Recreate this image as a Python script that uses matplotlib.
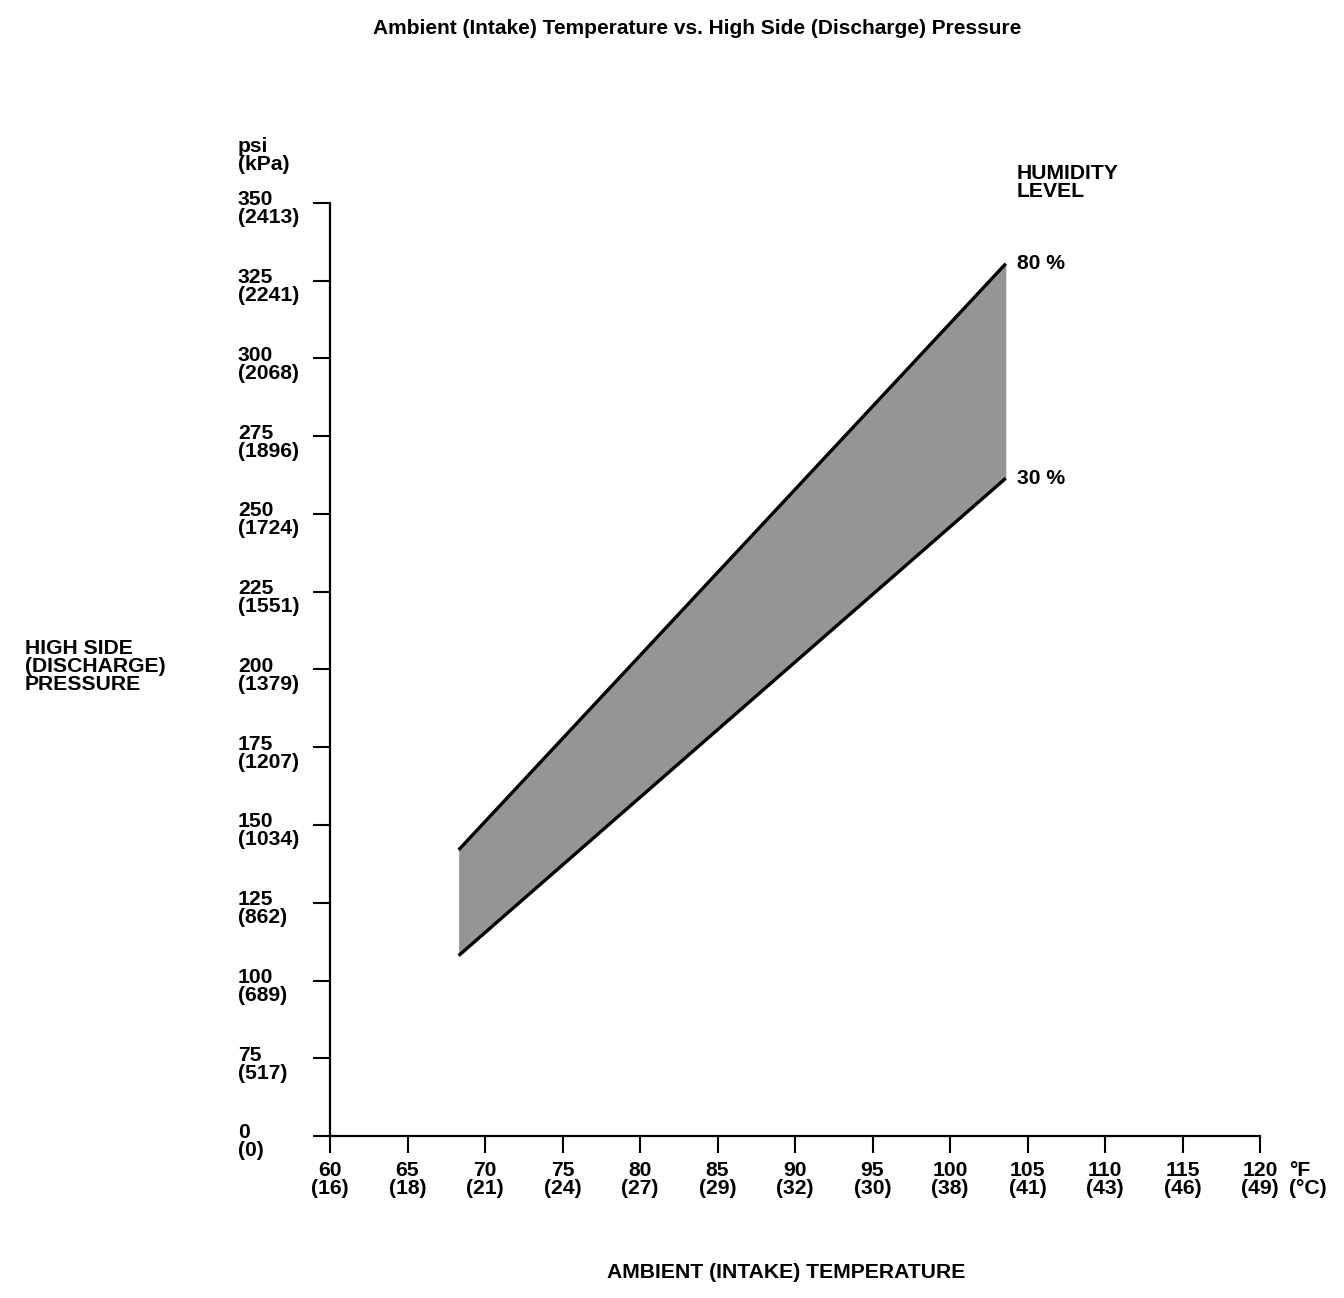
import matplotlib

matplotlib.use("Agg")
import matplotlib.pyplot as plt
import matplotlib.transforms as mtransforms

plt.rcParams["font.family"] = ["Liberation Sans", "DejaVu Sans"]
plt.rcParams["font.weight"] = "bold"

# Temperature axis (deg F) with the celsius values printed on the chart
temp_f = [60, 65, 70, 75, 80, 85, 90, 95, 100, 105, 110, 115, 120]
temp_c = ["16", "18", "21", "24", "27", "29", "32", "30", "38", "41", "43", "46", "49"]

# Pressure axis (psi); bottom tick is drawn at the axis break and labelled 0
psi_ticks = [50, 75, 100, 125, 150, 175, 200, 225, 250, 275, 300, 325, 350]
psi_labels = ["0", "75", "100", "125", "150", "175", "200", "225", "250", "275", "300", "325", "350"]
kpa_labels = ["0", "517", "689", "862", "1034", "1207", "1379", "1551", "1724", "1896", "2068", "2241", "2413"]

# Humidity band edges
band_temp = [68.3, 103.6]
band_80 = [142, 330.5]
band_30 = [108, 261.5]

W, H = 1344, 1298
fig = plt.figure(figsize=(W / 100, H / 100), dpi=100)
ax = fig.add_axes([330 / W, 1 - 1136 / H, (1260 - 330) / W, (1136 - 203) / H])
ax.set_xlim(60, 120)
ax.set_ylim(50, 350)

for s in ["top", "right"]:
    ax.spines[s].set_visible(False)
for s in ["left", "bottom"]:
    ax.spines[s].set_linewidth(1.6)

ax.set_xticks(temp_f)
ax.set_yticks(psi_ticks)
ax.set_xticklabels([])
ax.set_yticklabels([])
ax.tick_params(axis="both", direction="out", length=12, width=1.5)

# band
ax.fill_between(band_temp, band_30, band_80, color="#959595", linewidth=0)
ax.plot(band_temp, band_80, color="black", lw=2.4, solid_capstyle="butt")
ax.plot(band_temp, band_30, color="black", lw=2.4, solid_capstyle="butt")

fs = 15.2
ls = 0.92
# y tick labels
ytr = mtransforms.blended_transform_factory(fig.transFigure, ax.transData)
for v, p, k in zip(psi_ticks, psi_labels, kpa_labels):
    ax.text(238 / W, v, f"{p}\n({k})", transform=ytr + mtransforms.ScaledTranslation(0, 9 / 72, fig.dpi_scale_trans),
            ha="left", va="top", fontsize=fs, fontweight="bold", linespacing=ls)

# x tick labels
xtr = mtransforms.blended_transform_factory(ax.transData, fig.transFigure)
for t, c in zip(temp_f, temp_c):
    ax.text(t, 1 - 1161 / H, f"{t}\n({c})", transform=xtr, ha="center", va="top",
            fontsize=fs, fontweight="bold", linespacing=ls)

fig.text(1289 / W, 1 - 1161 / H, "°F\n(°C)", ha="left", va="top", fontsize=fs,
         fontweight="bold", linespacing=ls)
fig.text(238 / W, 1 - 137 / H, "psi\n(kPa)", ha="left", va="top", fontsize=fs,
         fontweight="bold", linespacing=ls)

fig.text(697 / W, 1 - 28 / H, "Ambient (Intake) Temperature vs. High Side (Discharge) Pressure",
         ha="center", va="center", fontsize=15, fontweight="bold")
fig.text(25 / W, 1 - 639 / H, "HIGH SIDE\n(DISCHARGE)\nPRESSURE", ha="left", va="top",
         fontsize=fs, fontweight="bold", linespacing=ls)
fig.text(786 / W, 1 - 1272 / H, "AMBIENT (INTAKE) TEMPERATURE", ha="center", va="center",
         fontsize=fs, fontweight="bold")
fig.text(1017 / W, 1 - 164 / H, "HUMIDITY\nLEVEL", ha="left", va="top", fontsize=fs,
         fontweight="bold", linespacing=ls)

dtr = ax.transData + mtransforms.ScaledTranslation(8 / 72, 0, fig.dpi_scale_trans)
ax.text(band_temp[1], band_80[1], "80 %", transform=dtr, ha="left", va="center",
        fontsize=fs, fontweight="bold")
ax.text(band_temp[1], band_30[1], "30 %", transform=dtr, ha="left", va="center",
        fontsize=fs, fontweight="bold")

fig.savefig("out.png", dpi=100, facecolor="white")
